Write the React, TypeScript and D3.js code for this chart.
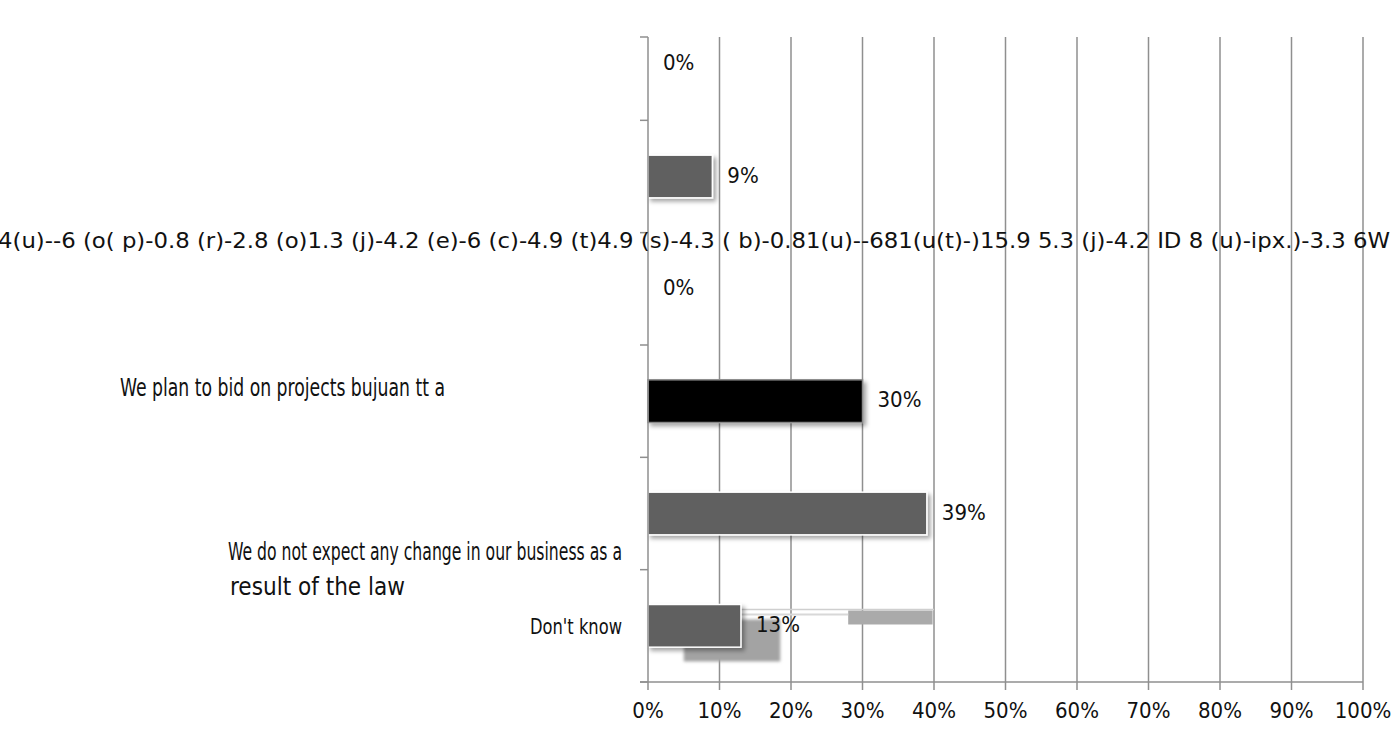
import * as d3 from 'd3';

const categories = [
  'blank-a',
  'blank-b',
  'garbled',
  'We plan to bid on projects bujuan tt a',
  'We do not expect any change in our business as a',
  "Don't know",
];
const values = [0, 9, 0, 30, 39, 13];
const xTicks = [0, 10, 20, 30, 40, 50, 60, 70, 80, 90, 100];
const garbledText =
  '4(u)--6 (o( p)-0.8 (r)-2.8 (o)1.3 (j)-4.2 (e)-6 (c)-4.9 (t)4.9 (s)-4.3 ( b)-0.81(u)--681(u(t)-)15.9 5.3 (j)-4.2 ID 8 (u)-ipx.)-3.3 6W';
// stray fragments that showed up around the last bar, in percent units
const ghostBars = [
  { from: 5, to: 18.5, dy: 15, h: 42, fill: '#a3a3a3' },
  { from: 28, to: 39.8, dy: 6, h: 14, fill: '#aaaaaa' },
];

const FONT = '"Liberation Sans Narrow", "DejaVu Sans Condensed", "Arial Narrow", sans-serif';

export default function App() {
  const width = 1395;
  const height = 731;
  const x = d3.scaleLinear().domain([0, 100]).range([648, 1363]);
  const y = d3
    .scaleBand<number>()
    .domain(categories.map((_, i) => i))
    .range([8, 682])
    .paddingInner(0.62)
    .paddingOuter(0.31);
  const axisTop = 37;
  const axisBottom = 682;
  const step = y.step();
  const boundaries = d3.range(1, categories.length + 1).map(i => 8 + i * step);
  const gy = (i: number) => y(i) ?? 0;

  const barStyle = (i: number) =>
    i === 3
      ? { fill: '#000', stroke: '#8a8a8a' }
      : { fill: '#606060', stroke: '#ffffff' };

  return (
    <svg
      width={width}
      height={height}
      style={{ position: 'absolute', left: 0, top: 0, background: '#fff' }}
      fontFamily={FONT}
    >
      <defs>
        <filter id="shadow" x="-10%" y="-20%" width="130%" height="160%">
          <feDropShadow dx="3" dy="3" stdDeviation="2" floodColor="#000" floodOpacity="0.35" />
        </filter>
        <filter id="blur" x="-10%" y="-20%" width="130%" height="160%">
          <feGaussianBlur stdDeviation="1.5" />
        </filter>
      </defs>

      {/* gridlines */}
      {xTicks.slice(1).map(t => (
        <line key={t} x1={x(t)} x2={x(t)} y1={axisTop} y2={axisBottom} stroke="#8f8f8f" strokeWidth={1.5} />
      ))}

      {/* ghost fragments */}
      {ghostBars.map((g, i) => (
        <rect
          key={i}
          x={x(g.from)}
          y={gy(5) + g.dy}
          width={x(g.to) - x(g.from)}
          height={g.h}
          fill={g.fill}
          filter={i === 0 ? 'url(#blur)' : undefined}
        />
      ))}
      <line x1={x(13)} x2={x(40)} y1={gy(5) + 5} y2={gy(5) + 5} stroke="#cfcfcf" strokeWidth={1.5} />
      <line x1={x(13)} x2={x(28)} y1={gy(5) + 10} y2={gy(5) + 10} stroke="#d8d8d8" strokeWidth={2} />

      {/* bars */}
      {values.map((v, i) =>
        v > 0 ? (
          <rect
            key={i}
            x={x(0)}
            y={gy(i)}
            width={x(v) - x(0)}
            height={y.bandwidth()}
            {...barStyle(i)}
            strokeWidth={1.5}
            filter="url(#shadow)"
          />
        ) : null
      )}

      {/* value labels */}
      {values.map((v, i) => (
        <text
          key={i}
          x={x(v) + 15}
          y={gy(i) + y.bandwidth() / 2}
          dominantBaseline="middle"
          fontSize={22}
          fill="#111"
        >
          {v}%
        </text>
      ))}

      {/* vertical axis */}
      <line x1={x(0)} x2={x(0)} y1={axisTop} y2={axisBottom} stroke="#8f8f8f" strokeWidth={1.5} />
      <line x1={640} x2={x(0)} y1={axisTop} y2={axisTop} stroke="#8f8f8f" strokeWidth={1.5} />
      {boundaries.map((b, i) => (
        <line key={i} x1={640} x2={x(0)} y1={b} y2={b} stroke="#8f8f8f" strokeWidth={1.5} />
      ))}

      {/* horizontal axis */}
      <line x1={640} x2={x(100)} y1={axisBottom} y2={axisBottom} stroke="#8f8f8f" strokeWidth={1.5} />
      {xTicks.map(t => (
        <g key={t}>
          <line x1={x(t)} x2={x(t)} y1={axisBottom} y2={axisBottom + 8} stroke="#8f8f8f" strokeWidth={1.5} />
          <text x={x(t)} y={712} textAnchor="middle" dominantBaseline="middle" fontSize={22} fill="#111">
            {t}%
          </text>
        </g>
      ))}

      {/* category labels */}
      <text x={-2} y={248} fontSize={22} fill="#111" textLength={1392} lengthAdjust="spacingAndGlyphs">
        {garbledText}
      </text>
      <text x={120} y={gy(3) + 16} fontSize={24} fill="#111" textLength={325} lengthAdjust="spacingAndGlyphs">
        {categories[3]}
      </text>
      <text x={228} y={gy(4) + 68} fontSize={24} fill="#111" textLength={394} lengthAdjust="spacingAndGlyphs">
        {categories[4]}
      </text>
      <text x={230} y={gy(4) + 103} fontSize={24} fill="#111" textLength={175} lengthAdjust="spacingAndGlyphs">
        result of the law
      </text>
      <text
        x={530}
        y={gy(5) + y.bandwidth() / 2 + 8}
        fontSize={22}
        fill="#111"
        textLength={92}
        lengthAdjust="spacingAndGlyphs"
      >
        {categories[5]}
      </text>
    </svg>
  );
}
